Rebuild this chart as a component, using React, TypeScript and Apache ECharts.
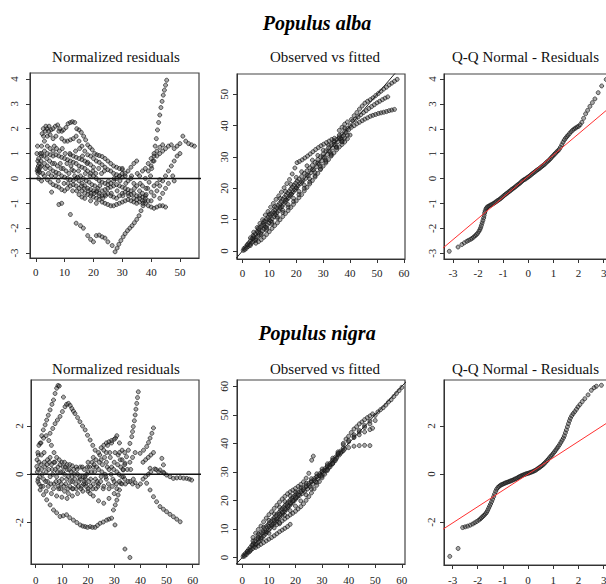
import React, { useEffect, useRef } from "react";
import * as echarts from "echarts";

const FONT = "'Liberation Serif', 'Times New Roman', Times, serif";

const speciesTitles = ["Populus alba", "Populus nigra"];
const panelTitles = ["Normalized residuals", "Observed vs fitted", "Q-Q Normal - Residuals"];

const ticksFit50 = [0, 10, 20, 30, 40, 50];
const ticksFit60 = [0, 10, 20, 30, 40, 50, 60];
const ticksResidAlba = [-3, -2, -1, 0, 1, 2, 3, 4];
const ticksResidNigra = [-2, 0, 2];
const ticksQQ = [-3, -2, -1, 0, 1, 2, 3];

// Populus alba: normalized residuals vs fitted
const albaResiduals: [number, number][] = [
  [1.5,1.0],[2,1.3],[2.7,1.7],[3.3,1.9],[3.9,2.0],[4.6,2.1],[5.3,1.95],[6,2.0],[6.8,2.1],[7.6,2.15],[8.3,2.0],[9,1.9],[9.6,1.95],[10.5,2.05],[11.2,2.2],[12,2.25],[12.7,2.28],[13.5,2.25],[14.2,2.0],[15,1.95],[15.8,1.85],[16.6,1.7],[17.3,1.55],[18,1.35],[18.8,1.25],[19.6,1.15],[20.4,1.0],[21.2,0.95],[22,0.92],[23,0.88],[24,0.8],[25,0.7],[26,0.6],[27,0.5],[28,0.45],[29,0.4],[30,0.35],
  [2,0.9],[3,1.5],[4,1.7],[5,1.75],[6,1.6],[7,1.7],[8,1.9],[9,1.6],[10,1.5],[11,1.5],[12,1.55],[13,1.6],[14,1.7],[15,1.5],[16,1.3],[17,1.1],[18,0.95],[19,0.9],[20,0.8],[21,0.7],[22,0.65],[23,0.55],[24,0.45],[25,0.35],[26,0.3],[27,0.2],[28,0.15],[29,0.1],[30,0.05],[31,0.1],[32,0.3],[33,0.45],[34,0.6],[35,0.7],
  [1,0.8],[2,1.0],[3,1.1],[4,1.0],[5,0.95],[6,0.9],[7,0.95],[8,0.9],[9,0.85],[10,0.8],[11,0.75],[12,0.7],[13,0.65],[14,0.6],[15,0.5],[16,0.45],[17,0.4],[18,0.3],[19,0.2],[20,0.1],[21,0],[22,-0.1],[23,-0.15],[24,-0.2],[25,-0.25],[26,-0.2],[27,-0.1],[28,0],[29,0.1],[30,0.2],
  [1,0.3],[2,0.5],[3,0.6],[4,0.5],[5,0.4],[6,0.3],[7,0.25],[8,0.2],[9,0.1],[10,0.05],[11,0],[12,-0.05],[13,-0.1],[14,0],[15,-0.1],[16,-0.2],[17,-0.3],[18,-0.4],[19,-0.45],[20,-0.5],[21,-0.55],[22,-0.6],[23,-0.5],[24,-0.45],[25,-0.4],[26,-0.35],[27,-0.3],[28,-0.25],[29,-0.3],[30,-0.35],[31,-0.4],[32,-0.45],[33,-0.5],[34,-0.6],[35,-0.7],[36,-0.8],[37,-0.75],[38,-0.7],
  [1,0],[2,-0.1],[3,0.1],[4,-0.05],[5,-0.15],[6,-0.25],[7,-0.3],[8,-0.35],[9,-0.45],[10,-0.5],[11,-0.4],[12,-0.3],[13,-0.25],[14,-0.3],[15,-0.4],[16,-0.5],[17,-0.6],[18,-0.65],[19,-0.7],[20,-0.75],[21,-0.8],[22,-0.85],[23,-0.95],[24,-1.0],[25,-1.05],[26,-1.1],[27,-1.1],[28,-1.05],[29,-1.0],[30,-0.95],[31,-0.9],[32,-0.85],[33,-0.9],[34,-0.95],[35,-1.0],[36,-0.95],[37,-0.9],[38,-1.0],[39,-1.1],[40,-1.15],[41,-1.2],[42,-1.15],[43,-1.1],[44,-1.1],[45,-1.15],
  [5.5,-0.55],[8,-1.05],[9,-1.0],[12,-1.45],[14,-1.8],[15.5,-1.9],[16.5,-2.0],[18,-2.3],[19,-2.45],[20,-2.55],[21,-2.3],[22,-2.28],[23,-2.35],[24,-2.4],[25,-2.55],[26.5,-2.7],[27.5,-2.95],[28.2,-2.8],[28.8,-2.65],[29.5,-2.5],[30.3,-2.35],[31,-2.22],[31.8,-2.1],[32.6,-2.0],[33.4,-1.9],[34.2,-1.78],[35,-1.65],[35.8,-1.5],[36.5,-1.3],[37.2,-1.1],[37.8,-0.9],[38.3,-0.65],[38.8,-0.4],[39.3,-0.15],[39.8,0.1],[40.2,0.4],[40.6,0.7],[41,1.0],[41.4,1.3],[41.8,1.6],[42.2,1.95],[42.6,2.25],[43,2.55],[43.4,2.85],[43.8,3.1],[44.2,3.35],[44.6,3.55],[45,3.75],[45.4,3.95],
  [36,-0.5],[37,-0.3],[38,0],[39,0.3],[40,0.5],[41,0.7],[42,0.9],[43,1.0],[44,1.1],[45,1.2],[46,1.3],[47,1.35],[48,1.2],[49,1.3],[50,1.4],[51,1.7],[52,1.5],[53,1.4],[54,1.35],[55,1.3],
  [40,-0.9],[41,-0.7],[42,-0.5],[43,-0.3],[44,-0.1],[45,0.1],[46,0.3],[47,0.5],[48,0.7],[49,0.9],[50,1.0],[47.5,0.1],[48,-0.1],[46,-0.2],[45,-0.4],[44,-0.6],[43,-0.8],
  [30,0.4],[31,0.2],[32,-0.1],[33,0],[34,-0.2],[35,-0.3],[36,0.1],[37,0.3],[38,0.4],[39,0.6],[40,0.8],[41,0.9],[42,1.1],[43,1.25],[44,1.35],[34,-0.8],[35,-0.85],[36,-0.7],[37,-0.6],[38,-0.8],[39,-0.9],[40,-0.55],[41,-0.3],[42,-0.2],[43,-0.05],
  [0.5,0.3],[0.6,0.4],[0.8,0.2],[0.9,0.5],[1.1,0.35],[1.2,0.6],[0.7,0.7],[1.4,0.25],[1.6,0.45],[0.4,1.0],[0.6,1.3],[2.2,1.8],[2.6,2.0],[3.5,2.1],[4.5,1.9],[4,1.3],[5,1.2],[6,1.1],[6.5,0.6],[7.5,0.5],[8.5,0.6],[9.5,0.4],[10.5,0.3],[11.5,0.2],[12.5,0.35],[13.5,0.1],[14.5,0.05],[15.5,0.1],[16.5,0],[17.5,-0.1],[18.5,-0.15],[19.5,-0.25],[20.5,-0.3],[21.5,-0.4],
  [12,0.95],[13,0.9],[14,0.85],[15,0.8],[16,0.75],[17,0.7],[18,0.65],[19,0.55],[20,0.45],[15,-0.65],[16,-0.75],[17,-0.8],[19,-0.9],[21,-1.0],[22,-0.7],[23,-0.7],[24,-0.65],[25,-0.6],[26,-0.7],[27,-0.75],[28,-0.8],[29,-0.7],[30,-0.6],[31,-0.55],[32,-0.6],[33,-0.65],
  [1.8,0.7],[2.4,0.2],[2.8,0.9],[3.4,0.4],[3.8,0.8],[4.4,0.2],[4.8,0.7],[5.4,0.1],[5.8,0.6],[6.4,1.3],[6.8,0.1],[7.2,1.2],[7.8,-0.1],[8.2,1.1],[8.8,0.4],[9.2,1.2],[9.8,-0.2],[10.2,1.0],[10.8,0.6],[11.2,-0.2],[11.8,1.0],[12.2,0.5],[12.8,-0.5],[13.2,0.3],[13.8,1.1],[14.2,-0.5],[14.8,0.3],[15.2,1.2],[15.8,-0.3],[16.2,0.9],[16.8,-0.4],[17.2,0.2],[17.8,0.6],[18.2,-0.5],[18.8,0.1],[19.2,-0.6],[19.8,0.3],[20.2,-0.6],[20.8,0.2],[21.2,-0.5],[21.8,0.4],[22.2,-0.3],[22.8,0.2],[23.2,-0.8],[23.8,0.3],[24.2,-0.7],[25.2,-0.1],[26.2,-0.6],[27.2,0],[28.2,-0.5],[29.2,-0.1],[30.2,-0.7],[31.2,-0.2],[32.2,-0.7],[33.2,0.1],[34.2,-0.4],[35.2,0.2],[36.2,-0.2],[37.2,-1.0],[38.2,-0.4]
];

// Populus alba: observed vs fitted
const albaObserved: [number, number][] = [
  [0.3,0.2],[0.6,0.8],[0.9,0.4],[1.2,1.3],[1.5,0.9],[1.8,2.0],[2.1,1.4],[2.4,2.6],[2.7,1.9],[3,3.3],[3.3,2.5],[3.6,4.0],[3.9,2.9],[4.2,4.6],[4.5,3.4],[4.8,5.5],[5.1,4.0],[5.4,6.2],[5.7,4.6],[6,6.8],[6.3,5.1],[6.6,7.6],[6.9,5.7],[7.2,8.2],[7.5,6.4],[7.8,8.9],[8.1,7.0],[8.4,9.6],[8.7,7.6],[9,10.3],[9.3,8.3],[9.6,10.8],[9.9,9.0],[10.2,11.5],[10.5,9.6],[10.8,12.0],[11.1,10.3],[11.4,12.6],[11.7,11.0],[12,13.2],[12.3,11.6],[12.6,13.9],[12.9,12.3],[13.2,14.6],[13.5,12.9],[13.8,15.2],[14.1,13.6],[14.4,15.8],[14.7,14.2],[15,16.5],[15.3,14.9],[15.6,17.2],[15.9,15.6],[16.2,17.8],[16.5,16.3],[16.8,18.5],[17.1,16.9],[17.4,19.1],[17.7,17.6],[18,19.8],[18.3,18.2],[18.6,20.4],[18.9,18.9],[19.2,21.0],[19.5,19.5],[19.8,21.7],[20.1,20.2],[20.4,22.3],[20.7,20.8],[21,23],[21.5,21.5],[22,23.8],[22.5,22.4],[23,24.8],[23.5,23.2],[24,25.6],[24.5,24.1],[25,26.5],[25.5,25],[26,27.4],[26.5,25.9],[27,28.3],[27.5,26.9],[28,29.2],[28.5,27.8],[29,30.1],[29.5,28.8],[30,31],[30.5,29.8],[31,32],[31.5,30.8],[32,33],[32.5,31.8],[33,33.9],[33.5,32.9],[34,34.8],[34.5,33.9],[35,35.6],[35.5,34.9],[36,36.4],[36.5,35.8],[37,37.3],[37.5,36.8],[38,38.2],[38.5,37.8],[39,39.1],[39.5,38.7],[40,40],
  [2,2],[4,4.1],[6,6],[8,8.2],[10,10],[12,12.1],[14,14],[16,16.2],[18,18],[20,20.1],[22,22],[24,24.2],[26,26],[28,28.1],[30,30],[32,32],[34,34],[36,36],
  [3,1.8],[5,3.4],[7,5.2],[9,7.4],[11,9.2],[13,11],[15,13],[17,14.8],[19,16.8],[21,19],[23,21],[25,23],[27,25],[29,27],[31,29],[33,31],[35,33.2],[37,35.6],
  [4,5],[6,7.3],[8,9.5],[10,11.8],[12,14.2],[14,16.8],[16,19],[18,21.3],[20,23.5],[22,25.3],[24,27.2],[26,29],[28,30.5],[30,32.2],[32,33.8],[34,35.2],[36,37],[38,39.2],
  [9,6.8],[11,8.6],[13,10.5],[15,12.3],[17,14],[19,15.8],[21,18],[23,20],[25,22],[27,24],[29,26.2],[31,28.5],[33,30.6],[35,33],[37,34.8],
  [3,4.2],[4.2,6.0],[5.5,7.5],[6.5,8.8],[7.5,10],[8.5,11.5],[9.5,12.6],[10.5,14],[11.5,15.2],[12.5,16.5],[13.5,17.6],[14.5,18.8],[15.5,20.2],[16.5,21.5],[17.5,22.8],[18.5,24.6],[19.5,26.5],[20.3,28.2],[21.2,28.6],[22.2,29.1],[23.2,29.7],[24.2,30.3],[25.2,31],[26.2,31.7],[27.2,32.4],[28.2,33],[29.2,33.6],[30.2,34.1],[31.2,34.6],[32.2,35.1],[33.2,35.6],[34.2,36],
  [5,2.5],[6,3],[7,3.6],[8,4.4],[9,5.3],[10,6.2],[11,7.2],[12,8.1],[13,9],[14,10],[15,11],[16,12],[17,12.9],[18,13.9],[19,14.9],[20,16],[21,17],[22,18],[23,19.2],[24,20.3],[25,21.4],[26,22.5],[27,23.6],[28,24.8],[29,26],[30,27.1],[31,28.1],[32,29.2],[33,30.3],[34,31.3],[35,32.3],[36,33.2],[37,34],[38,34.8],[39,35.8],[40,37],
  [40.5,42],[41.5,43.2],[42.5,44.2],[43.5,45.3],[44.5,46.3],[45.5,47.2],[46.5,47.8],[47.5,48.3],[48.5,48.9],[49.5,49.6],[50.5,50.3],[51.5,51],[52.5,51.7],[53.5,52.3],[54.5,53],[55.5,53.6],[56.5,54.2],[57.5,54.8],
  [41,41.5],[42,42.1],[43,42.8],[44,43.5],[45,44.2],[46,44.8],[47,45.5],[48,46.1],[49,46.7],[50,47.3],[51,47.8],[52,48.3],[53,48.8],[54,49.2],
  [40.5,39.5],[41.5,40],[42.5,40.6],[43.5,41.1],[44.5,41.6],[45.5,42.1],[46.5,42.5],[47.5,43],[48.5,43.3],[49.5,43.6],[50.5,43.9],[51.5,44.1],[52.5,44.3],[53.5,44.5],[54.5,44.8],[55.5,45],[56.5,45.2],
  [36,38.5],[37,39.5],[38,40.5],[39,41.2],[37,35],[38,36],[39,37]
];

// Populus alba: normal Q-Q of residuals (theoretical, sample)
const albaQQ: [number, number][] = [
  [-3.15,-2.92],[-2.8,-2.75],[-2.65,-2.65],[-2.55,-2.58],[-2.45,-2.52],[-2.38,-2.48],[-2.3,-2.44],[-2.24,-2.4],[-2.18,-2.35],[-2.12,-2.3],[-2.07,-2.25],[-2.02,-2.2],[-1.97,-2.12],[-1.93,-2.05],[-1.9,-1.97],[-1.87,-1.88],[-1.84,-1.78],[-1.81,-1.68],[-1.78,-1.58],[-1.76,-1.48],[-1.74,-1.38],[-1.72,-1.3],[-1.69,-1.22],[-1.66,-1.17],[-1.62,-1.13],[-1.57,-1.1],[-1.52,-1.07],[-1.47,-1.05],[-1.42,-1.02],[-1.37,-0.99],[-1.32,-0.95],[-1.27,-0.92],[-1.22,-0.88],[-1.17,-0.85],[-1.12,-0.81],[-1.07,-0.77],[-1.02,-0.73],
  [-0.97,-0.68],[-0.92,-0.64],[-0.87,-0.6],[-0.82,-0.57],[-0.77,-0.52],[-0.72,-0.49],[-0.67,-0.44],[-0.62,-0.41],[-0.57,-0.37],[-0.52,-0.33],[-0.47,-0.29],[-0.42,-0.25],[-0.37,-0.21],[-0.32,-0.17],[-0.27,-0.12],[-0.22,-0.08],[-0.17,-0.04],[-0.12,-0.02],[-0.07,0.02],[-0.02,0.05],[0.03,0.09],[0.08,0.13],[0.13,0.17],[0.18,0.21],[0.23,0.25],[0.28,0.29],[0.33,0.33],[0.38,0.36],[0.43,0.4],[0.48,0.44],[0.53,0.48],[0.58,0.52],[0.63,0.56],[0.68,0.61],[0.73,0.66],[0.78,0.7],[0.83,0.75],[0.88,0.8],[0.93,0.86],[0.98,0.91],[1.03,0.97],[1.08,1.02],[1.13,1.07],[1.18,1.12],
  [1.23,1.18],[1.28,1.26],[1.33,1.36],[1.38,1.46],[1.43,1.55],[1.48,1.62],[1.53,1.68],[1.58,1.74],[1.64,1.81],[1.7,1.88],[1.76,1.94],[1.82,1.99],[1.88,2.03],[1.94,2.07],[2.0,2.1],[2.06,2.16],[2.13,2.26],[2.2,2.42],[2.28,2.6],[2.36,2.74],[2.45,2.9],[2.55,3.05],[2.65,3.2],[2.78,3.45],[2.92,3.72],[3.1,3.98]
];

// Populus nigra: normalized residuals vs fitted
const nigraResiduals: [number, number][] = [
  [0.4,0.32],[1,0.8],[1.7,1.29],[2.3,1.6],[2.9,1.84],[3.6,2.05],[4.2,2.25],[4.8,2.45],[5.5,2.67],[6.2,2.9],[6.8,3.08],[7.4,3.35],[8,3.57],[8.5,3.68],[9,3.66],
  [5.5,1.7],[6.5,1.9],[7.4,2.1],[8.3,2.25],[9.3,2.4],[10.2,2.6],[11.2,2.8],[11.8,2.9],[12.5,2.94],[13.2,2.85],[13.8,2.73],[14.4,2.62],[15,2.52],[16,2.35],[16.9,2.18],[17.9,2.0],[18.9,1.84],[19.8,1.62],[20.8,1.42],[21.8,1.2],[22.7,1.0],[10.6,3.2],
  [1.7,-0.65],[3,-0.85],[4.2,-1.06],[5.5,-1.27],[6.8,-1.48],[8,-1.6],[9.3,-1.75],[10.5,-1.72],[11.8,-1.68],[13,-1.8],[14.4,-1.9],[15.7,-2.0],[17,-2.1],[18,-2.15],[18.9,-2.17],[19.8,-2.2],[20.8,-2.17],[21.7,-2.2],[22.7,-2.2],[23.6,-2.12],[24.6,-2.03],[25.8,-1.98],[27.1,-1.9],[28,-1.86],[29,-1.82],[30.3,-2.1],
  [29.7,-1.48],[30.4,-1.27],[31,-1.07],[31.5,-0.86],[32,-0.65],[32.5,-0.38],[32.9,-0.1],[33.5,0.18],[34.1,0.46],[34.7,0.73],[35.4,1.0],[36,1.28],[36.7,1.56],[37,1.77],[37.3,1.98],[37.7,2.22],[38,2.46],[38.3,2.7],[38.6,2.94],[38.9,3.18],[39.2,3.42],
  [34.1,-3.1],[36,-3.45],
  [42.4,-0.37],[43.7,-0.65],[45,-0.93],[46.2,-1.14],[47.5,-1.34],[48.8,-1.45],[50,-1.55],[51.3,-1.66],[52.6,-1.76],[53.9,-1.86],[55.2,-1.97],
  [39.9,0.87],[41.2,1.0],[42.4,1.15],[43.1,1.32],[43.7,1.5],[44.4,1.7],[45,1.92],
  [43.7,0.25],[45.5,0.22],[47.5,0.18],[48.8,0.08],[50,-0.03],[51.3,-0.1],[52.6,-0.17],[53.9,-0.15],[55.2,-0.14],[56.5,-0.16],[57.7,-0.17],[58.7,-0.2],[59.6,-0.24],[48.2,0.66],[48.8,0.39],
  [1,0.2],[1.5,-0.1],[2,0.4],[2.5,0],[3,-0.2],[3.5,0.3],[4,0.1],[4.5,-0.3],[5,0.2],[5.5,-0.1],[6,0.4],[6.5,0],[7,-0.4],[7.5,0.2],[8,-0.1],[8.5,0.3],[9,-0.3],[9.5,0.1],[10,-0.2],[10.5,0.3],[11,0],[11.5,-0.4],[12,0.2],[12.5,-0.1],[13,-0.5],[13.5,0.1],[14,-0.3],[14.5,0.2],[15,-0.2],[15.5,-0.6],[16,0],[16.5,-0.3],[17,0.3],[17.5,-0.5],[18,-0.1],[18.5,0.2],[19,-0.4],[19.5,0],[20,-0.7],[20.5,0.3],[21,-0.2],[21.5,0.5],[22,-0.4],[22.5,0.1],[23,0.6],[23.5,-0.3],[24,0.2],[24.5,0.8],[25,-0.1],[25.5,0.4],[26,1.0],[26.5,0],[27,0.5],[27.5,1.2],[28,0.2],[28.5,0.7],[29,1.3],[29.5,-0.2],[30,0.5],[30.5,1.5],[31,0.1],[31.5,0.8],[32,-0.3],[32.5,0.3],[33,0.6],[33.5,-0.1],[34,0.4],[35,0.2],[36,0.5],[37,0.7],[38,0.9],[36,-0.3],[37,-0.4],[38,-0.35],[39,-0.5],[40,-0.4],[41,-0.2],[42,-0.1],[43,0],[44,0.1],
  [0.5,0.6],[0.8,0.9],[1.2,1.2],[2,1.3],[3,1.5],[4,1.6],[5,1.4],[6,1.2],[7,0.9],[8,0.7],[9,0.6],[10,0.5],[11,0.5],[12,0.4],[13,0.4],[14,0.35],
  [2,-0.5],[4,-0.7],[6,-0.8],[8,-0.9],[10,-0.95],[12,-1.0],[14,-0.9],[16,-0.8],[18,-0.7],[20,-0.6],[22,-0.9],[24,-1.1],[26,-1.2],[28,-1.0],[30,-0.8],
  [19,-0.2],[20,0.1],[21,-0.5],[22,0.3],[23,-0.6],[24,-0.4],[25,0.6],[26,-0.5],[27,-0.2],[28,-0.6],[29,0.3],[30,-0.3],[31,-0.6],[32,0.9],[33,-0.4],[34,-0.2],
  [26,1.2],[27,1.3],[28,1.35],[29,1.4],[30,1.45],[31,1.6],[32,1.3],[33,1.0],[34,0.9],
  [41,0.5],[42,0.6],[43,0.7],[44,0.8],[45,0.9],[46,0.2],[47,0.1],[49,0.05],
  [0.6,0.1],[0.9,-0.2],[1.3,0.5],[2.2,0.8],[3.2,0.9],[4.5,0.6],[5.5,0.7],[7,0.5],[8.5,-0.5],[9.5,-0.6],[11,-0.7],[12.5,-0.8],[14,-0.6],[15.5,0.3],[17,-0.2],[18.5,-0.3],[20,0.5],[22,0.7],[24,0.9],[25,1.1],[27,0.9],
  [0.8,-0.3],[1.3,-0.4],[2.2,0.2],[2.8,-0.5],[3.3,0.5],[3.8,-0.3],[4.3,0.4],[4.8,-0.5],[5.3,0.5],[5.8,-0.4],[6.3,0.2],[6.8,-0.6],[7.3,0.5],[7.8,-0.3],[8.3,0.1],[8.8,-0.6],[9.3,0.4],[9.8,-0.4],[10.3,0.1],[10.8,-0.5],[11.3,0.3],[11.8,-0.2],[12.3,-0.6],[12.8,0.2],[13.3,-0.3],[13.8,-0.1],[14.3,-0.6],[14.8,0],[15.3,-0.4],[15.8,0.2],[16.3,-0.5],[16.8,-0.1],[17.3,-0.6],[17.8,0.3],[18.3,-0.4],[18.8,-0.1],[19.3,-0.5],[19.8,0.3],[20.3,-0.3],[20.8,-0.8],[21.3,0.1],[21.8,-0.6],[22.3,0.4],[22.8,-0.2],[23.3,0.3],[23.8,-0.5],[24.3,0.5],[24.8,-0.3],[25.3,0.1],[25.8,-0.6],[26.3,0.7],[26.8,-0.1],[27.3,0.3],[27.8,-0.4],[28.3,0.9],[28.8,0],[29.3,-0.5],[29.8,0.2],[30.3,0.9],[30.8,-0.4],[31.3,0.4],[31.8,0],[32.3,0.6],[33.3,0.2],[34.3,-0.4],[35.3,-0.3],[36.3,0.2],[37.3,-0.2]
];

// Populus nigra: observed vs fitted
const nigraObserved: [number, number][] = [
  [0.3,0.3],[0.6,0.9],[0.9,0.5],[1.2,1.4],[1.5,1.0],[1.8,2.1],[2.1,1.6],[2.4,2.8],[2.7,2.0],[3,3.5],[3.3,2.7],[3.6,4.3],[3.9,3.1],[4.2,5.0],[4.5,3.8],[4.8,5.8],[5.1,4.4],[5.4,6.6],[5.7,5.0],[6,7.2],[6.3,5.6],[6.6,8.0],[6.9,6.3],[7.2,8.7],[7.5,6.9],[7.8,9.4],[8.1,7.6],[8.4,10.1],[8.7,8.2],[9,10.8],[9.3,8.9],[9.6,11.4],[9.9,9.6],[10.2,12.1],[10.5,10.2],[10.8,12.7],[11.1,10.9],[11.4,13.3],[11.7,11.6],[12,13.9],[12.3,12.2],[12.6,14.6],[12.9,12.9],[13.2,15.2],[13.5,13.5],[13.8,15.8],[14.1,14.2],[14.4,16.5],[14.7,14.8],[15,17.1],[15.3,15.5],[15.6,17.7],[15.9,16.1],[16.2,18.3],[16.5,16.8],[16.8,18.9],[17.1,17.4],[17.4,19.5],[17.7,18.1],[18,20.1],[18.3,18.7],[18.6,20.7],[18.9,19.3],[19.2,21.3],[19.5,19.9],[19.8,21.8],[20.1,20.5],[20.4,22.4],[20.7,21.1],[21,22.9],[21.5,21.7],[22,23.6],[22.5,22.4],[23,24.4],[23.5,23.2],[24,25.2],[24.5,24.0],[25,26],[25.5,24.9],[26,26.8],[26.5,25.7],[27,27.6],[27.5,26.6],[28,28.4],[28.5,27.5],[29,29.3],[29.5,28.5],[30,30.2],[30.5,29.5],[31,31.1],[31.5,30.5],[32,32],[32.5,31.5],[33,33],[33.5,32.6],[34,34],[34.5,33.7],[35,35.1],[35.5,34.8],[36,36.2],[36.5,35.9],[37,37.3],[37.5,37],[38,38.4],[38.5,38],
  [2,2.2],[4,4.4],[6,6.5],[8,8.7],[10,10.9],[12,13],[14,15.1],[16,17.1],[18,19.2],[20,21.1],[22,23],[24,24.8],[26,26.5],[28,28.3],[30,30.1],[32,32.1],[34,34.1],[36,36.1],
  [3,2.5],[5,4.6],[7,6.8],[9,9],[11,11.4],[13,13.5],[15,15.9],[17,18],[19,20],[21,21.9],[23,23.7],[25,25.3],[27,27],[29,28.8],[31,30.6],[33,32.5],[35,34.5],[37,36.6],
  [4,5.8],[6,8.2],[8,10.6],[10,13],[12,15.3],[14,17.6],[16,19.6],[18,21.6],[20,23],[22,24.5],[24,26],[26,27.6],[28,29.3],[30,31],[32,32.8],[34,34.8],[36,37],[38,39.5],
  [10,8.5],[12,10.4],[14,11.8],[16,14.8],[18,16.4],[20,18],[22,19.8],[24,21.9],[26,24],[28,26.3],[30,28.5],[32,30.8],[34,32.8],
  [4,7],[5,8.5],[6,9.8],[7,11],[8,12.5],[9,13.8],[10,15],[11,16],[12,17.2],[13,18.3],[14,19.4],[15,20.5],[16,21.4],[17,22.3],[18,23],[19,23.6],[20,24.2],[21,24.9],[22,25.6],[23,26.5],[24,27.8],[25,29.5],[26.1,34.1],[26.7,35.5],
  [5,3.5],[6,4],[7,4.6],[8,5.2],[9,5.8],[10,6.4],[11,7],[12,7.6],[13,8.3],[14,9],[15,9.6],[16,10.2],[17,10.8],[18,11.6],
  [13,11.5],[14,12.2],[15,12.8],[16,13.5],[17,14.2],[18,14.9],[19,15.5],[20,16.2],[21,17],[22,17.8],[23,18.8],[24,20],[25,21.3],[26,22.6],[27,24],[28,25.3],[29,26.6],[30,27.9],[31,29.2],[32,30.5],[33,31.7],[34,33],[35,34],
  [38,40],[39,41.5],[40,42.5],[41,43.8],[42,45],[43,45.8],[44,46.8],[45,47.5],[46,48.3],[47,49],[48,49.6],[49,50.3],
  [40,40.5],[42,42.3],[44,44],[46,46.2],[48,47.8],[50,49.8],[51,51],[52,51.8],[53,52.5],[54,53.4],[55,54.5],[56,55.3],[57,56.4],[58,57.5],[59,58.5],[60,59.6],
  [42,43],[44,44.5],[46,45.6],[48,46.8],[50,48],
  [40,41],[42,42],[44,43],[46,44],[48,44.8],[49,45.3],
  [36,36.5],[38,37.5],[40,38.5],[42,39],[44,39.2],[46,39.3],[48,39.2]
];

// Populus nigra: normal Q-Q of residuals
const nigraQQ: [number, number][] = [
  [-3.11,-3.43],[-2.78,-3.1],[-2.6,-2.23],[-2.5,-2.2],[-2.4,-2.17],[-2.3,-2.13],[-2.2,-2.08],[-2.12,-2.03],[-2.04,-1.98],[-1.96,-1.92],[-1.9,-1.87],[-1.85,-1.82],[-1.8,-1.77],[-1.75,-1.72],[-1.7,-1.66],[-1.65,-1.6],[-1.61,-1.52],[-1.57,-1.43],[-1.53,-1.34],[-1.49,-1.25],[-1.45,-1.15],[-1.41,-1.05],[-1.37,-0.94],[-1.33,-0.83],[-1.29,-0.72],[-1.25,-0.63],[-1.2,-0.56],[-1.15,-0.51],[-1.1,-0.47],[-1.05,-0.44],[-1.0,-0.42],
  [-0.95,-0.39],[-0.9,-0.37],[-0.85,-0.35],[-0.8,-0.33],[-0.75,-0.31],[-0.7,-0.29],[-0.65,-0.27],[-0.6,-0.25],[-0.55,-0.22],[-0.5,-0.2],[-0.45,-0.18],[-0.4,-0.14],[-0.35,-0.11],[-0.3,-0.09],[-0.25,-0.06],[-0.2,-0.04],[-0.15,-0.02],[-0.1,0],[-0.05,0.02],[0,0.03],[0.05,0.05],[0.1,0.07],[0.15,0.09],[0.2,0.11],[0.25,0.14],[0.3,0.16],[0.35,0.2],[0.4,0.24],[0.45,0.27],[0.5,0.31],[0.55,0.35],[0.6,0.4],[0.65,0.45],[0.7,0.5],[0.75,0.56],[0.8,0.62],[0.85,0.68],[0.9,0.74],[0.95,0.8],[1.0,0.87],
  [1.05,0.93],[1.1,1.0],[1.15,1.08],[1.2,1.15],[1.25,1.23],[1.3,1.32],[1.35,1.41],[1.4,1.5],[1.44,1.6],[1.48,1.72],[1.52,1.84],[1.56,1.97],[1.6,2.1],[1.64,2.22],[1.68,2.33],[1.73,2.43],[1.79,2.52],[1.85,2.6],[1.92,2.7],[1.98,2.8],[2.06,2.9],[2.15,3.02],[2.25,3.14],[2.38,3.3],[2.51,3.49],[2.62,3.6],[2.71,3.66],[2.91,3.7]
];

// reference lines (zero line, 1:1 line, Q-Q lines)
const zeroLine: [number, number][] = [[-10, 0], [80, 0]];
const identityLine: [number, number][] = [[-10, -10], [80, 80]];
const albaQQLine: [number, number][] = [[-4, -3.3], [4, 3.5]];
const nigraQQLine: [number, number][] = [[-4, -2.72], [4, 2.72]];

type Panel = {
  left: number; top: number; width: number; height: number;
  xMin: number; xMax: number; yMin: number; yMax: number;
  xTicks: number[]; yTicks: number[]; yMargin: number; xMargin: number;
  points: [number, number][]; line: [number, number][]; lineColor: string; lineWidth: number;
};

const panels: Panel[] = [
  { left: 30, top: 73, width: 169, height: 185, xMin: -2, xMax: 56.6, yMin: -3.2, yMax: 4.24, xTicks: ticksFit50, yTicks: ticksResidAlba, yMargin: 11, xMargin: 8, points: albaResiduals, line: zeroLine, lineColor: "#111", lineWidth: 1.5 },
  { left: 237, top: 74, width: 168, height: 185, xMin: -2, xMax: 60.4, yMin: -2.55, yMax: 56.5, xTicks: ticksFit60, yTicks: ticksFit50, yMargin: 8, xMargin: 8, points: albaObserved, line: identityLine, lineColor: "#222", lineWidth: 1 },
  { left: 444, top: 74, width: 170, height: 185, xMin: -3.36, xMax: 3.41, yMin: -3.23, yMax: 4.2, xTicks: ticksQQ, yTicks: ticksResidAlba, yMargin: 7, xMargin: 8, points: albaQQ, line: albaQQLine, lineColor: "#ff3030", lineWidth: 1 },
  { left: 31, top: 380, width: 168, height: 184, xMin: -1.8, xMax: 62.4, yMin: -3.72, yMax: 3.91, xTicks: ticksFit60, yTicks: ticksResidNigra, yMargin: 7, xMargin: 10, points: nigraResiduals, line: zeroLine, lineColor: "#111", lineWidth: 1.5 },
  { left: 237, top: 380, width: 168, height: 184, xMin: -2, xMax: 61.2, yMin: -2.3, yMax: 62.2, xTicks: ticksFit60, yTicks: ticksFit60, yMargin: 8, xMargin: 10, points: nigraObserved, line: identityLine, lineColor: "#222", lineWidth: 1 },
  { left: 444, top: 380, width: 170, height: 185, xMin: -3.34, xMax: 3.41, yMin: -3.79, yMax: 3.92, xTicks: ticksQQ, yTicks: ticksResidNigra, yMargin: 8, xMargin: 9, points: nigraQQ, line: nigraQQLine, lineColor: "#ff3030", lineWidth: 1 },
];

const titleCenters = [116, 325, null];

function buildOption() {
  const axisCommon = (min: number, max: number, ticks: number[], i: number, isY: boolean, margin: number) => ({
    type: "value",
    gridIndex: i,
    min,
    max,
    splitLine: { show: false },
    axisLine: { show: true, onZero: false, lineStyle: { color: "#333", width: 1 } },
    axisTick: { show: true, inside: false, length: 4, customValues: ticks, lineStyle: { color: "#333", width: 1 } },
    axisLabel: {
      customValues: ticks,
      fontFamily: FONT,
      fontSize: 11,
      color: "#222",
      rotate: isY ? 90 : 0,
      margin,
      hideOverlap: false,
    },
  });

  const graphic: any[] = [];
  speciesTitles.forEach((t, r) => {
    graphic.push({
      type: "text",
      x: 317,
      y: r === 0 ? 23 : 333,
      style: { text: t, font: `italic bold 20px ${FONT}`, fill: "#000", align: "center", verticalAlign: "middle" },
    });
  });
  [57, 369].forEach((yy) => {
    panelTitles.forEach((t, c) => {
      const cx = titleCenters[c];
      graphic.push({
        type: "text",
        x: cx === null ? 452 : cx,
        y: yy,
        style: { text: t, font: `15px ${FONT}`, fill: "#111", align: cx === null ? "left" : "center", verticalAlign: "middle" },
      });
    });
  });

  const series: any[] = [];
  panels.forEach((p, i) => {
    series.push({
      type: "scatter",
      xAxisIndex: i,
      yAxisIndex: i,
      data: p.points,
      symbol: "circle",
      symbolSize: 4,
      itemStyle: { color: "rgba(60,60,60,0.55)", borderColor: "#111", borderWidth: 0.8 },
      silent: true,
      clip: true,
    });
    series.push({
      type: "line",
      xAxisIndex: i,
      yAxisIndex: i,
      data: p.line,
      symbol: "none",
      lineStyle: { color: p.lineColor, width: p.lineWidth },
      silent: true,
      clip: true,
    });
  });

  return {
    animation: false,
    backgroundColor: "#fff",
    grid: panels.map((p) => ({
      left: p.left, top: p.top, width: p.width, height: p.height,
      show: true, borderColor: "#444", borderWidth: 1.2, backgroundColor: "transparent",
      containLabel: false, outerBoundsMode: "none",
    })),
    xAxis: panels.map((p, i) => axisCommon(p.xMin, p.xMax, p.xTicks, i, false, p.xMargin)),
    yAxis: panels.map((p, i) => axisCommon(p.yMin, p.yMax, p.yTicks, i, true, p.yMargin)),
    series,
    graphic,
  };
}

export default function App() {
  const ref = useRef<HTMLDivElement>(null);
  useEffect(() => {
    if (!ref.current) return;
    const chart = echarts.init(ref.current, undefined, { renderer: "svg" });
    chart.setOption(buildOption() as any);
    return () => chart.dispose();
  }, []);
  return <div ref={ref} style={{ position: "absolute", left: 0, top: 0, width: 606, height: 584, background: "#fff" }} />;
}
